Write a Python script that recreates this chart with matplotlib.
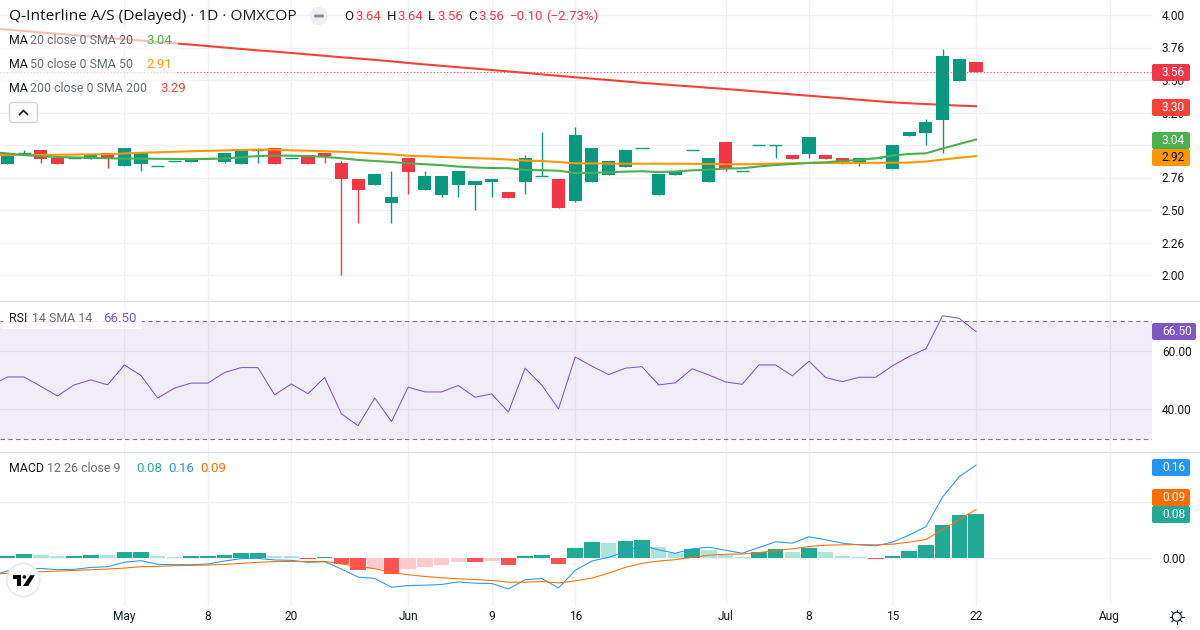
import numpy as np
import matplotlib
matplotlib.use('Agg')
import matplotlib.pyplot as plt
from matplotlib.patches import Circle, FancyBboxPatch, Polygon, Rectangle

plt.rcParams['font.family'] = ['Roboto', 'DejaVu Sans']

opens = [2.855, 2.94, 2.96, 2.90, 2.90, 2.89, 2.94, 2.835, 2.855, 2.84,
         2.875, 2.87, 2.90, 2.87, 2.855, 2.96, 2.977, 2.90, 2.92, 2.94,
         2.86, 2.74, 2.695, 2.555, 2.90, 2.655, 2.615, 2.69, 2.69, 2.715,
         2.64, 2.715, 2.76, 2.74, 2.57, 2.715, 2.77, 2.83, 2.975, 2.615,
         2.77, 2.96, 2.715, 3.02, 2.80, 3.00, 3.00, 2.92, 2.93, 2.92,
         2.90, 2.855, 2.90, 2.815, 3.07, 3.09, 3.19, 3.49, 3.64]
highs = [2.94, 2.96, 2.96, 2.90, 2.90, 2.92, 2.94, 2.977, 2.94, 2.84,
         2.875, 2.90, 2.90, 2.94, 2.96, 2.98, 2.977, 2.90, 2.92, 2.94,
         2.875, 2.74, 2.777, 2.80, 2.90, 2.80, 2.76, 2.80, 2.72, 2.74,
         2.64, 2.92, 3.10, 2.74, 3.14, 2.977, 2.877, 2.96, 2.975, 2.777,
         2.80, 2.96, 2.90, 3.02, 2.80, 3.00, 3.00, 2.92, 3.06, 2.92,
         2.90, 2.90, 2.90, 3.00, 3.10, 3.20, 3.74, 3.66, 3.64]
lows = [2.855, 2.94, 2.865, 2.855, 2.90, 2.89, 2.825, 2.835, 2.80, 2.84,
        2.875, 2.87, 2.90, 2.86, 2.855, 2.86, 2.855, 2.90, 2.855, 2.865,
        2.00, 2.40, 2.695, 2.40, 2.625, 2.655, 2.60, 2.60, 2.50, 2.60,
        2.59, 2.62, 2.76, 2.515, 2.56, 2.715, 2.77, 2.83, 2.975, 2.615,
        2.77, 2.96, 2.715, 2.80, 2.80, 3.00, 2.90, 2.89, 2.90, 2.89,
        2.855, 2.84, 2.90, 2.815, 3.07, 3.00, 2.94, 3.49, 3.56]
closes = [2.94, 2.94, 2.895, 2.855, 2.90, 2.92, 2.89, 2.977, 2.94, 2.84,
          2.875, 2.90, 2.90, 2.94, 2.96, 2.96, 2.855, 2.90, 2.855, 2.915,
          2.735, 2.655, 2.777, 2.60, 2.795, 2.76, 2.76, 2.80, 2.72, 2.74,
          2.59, 2.90, 2.76, 2.515, 3.077, 2.977, 2.877, 2.96, 2.975, 2.777,
          2.80, 2.96, 2.90, 2.815, 2.80, 3.00, 3.00, 2.89, 3.06, 2.89,
          2.855, 2.90, 2.90, 3.00, 3.10, 3.177, 3.685, 3.66, 3.56]

# indicator series carry one extra leading session that starts left of the view
ma20 = [2.946, 2.935, 2.923, 2.914, 2.908, 2.904, 2.902, 2.898, 2.896, 2.895,
        2.894, 2.893, 2.892, 2.892, 2.897, 2.906, 2.915, 2.918, 2.918, 2.914,
        2.909, 2.898, 2.885, 2.877, 2.869, 2.859, 2.852, 2.845, 2.834, 2.827,
        2.823, 2.822, 2.808, 2.806, 2.802, 2.785, 2.786, 2.790, 2.795, 2.798,
        2.792, 2.796, 2.805, 2.810, 2.819, 2.821, 2.835, 2.846, 2.854, 2.862,
        2.867, 2.878, 2.885, 2.898, 2.919, 2.931, 2.936, 2.973, 3.008, 3.042]
ma50 = [2.922, 2.923, 2.923, 2.923, 2.925, 2.926, 2.928, 2.929, 2.935, 2.940,
        2.944, 2.948, 2.952, 2.955, 2.958, 2.962, 2.964, 2.964, 2.959, 2.956,
        2.952, 2.948, 2.942, 2.935, 2.928, 2.917, 2.913, 2.908, 2.903, 2.898,
        2.895, 2.888, 2.880, 2.877, 2.869, 2.859, 2.858, 2.857, 2.856, 2.856,
        2.856, 2.856, 2.855, 2.854, 2.852, 2.852, 2.854, 2.857, 2.859, 2.862,
        2.862, 2.862, 2.862, 2.863, 2.864, 2.865, 2.873, 2.888, 2.902, 2.915]
ma200 = [3.898, 3.888, 3.877, 3.866, 3.856, 3.845, 3.835, 3.824, 3.814, 3.803,
         3.792, 3.782, 3.772, 3.761, 3.750, 3.739, 3.728, 3.718, 3.708, 3.697,
         3.686, 3.675, 3.665, 3.655, 3.643, 3.631, 3.620, 3.609, 3.598, 3.588,
         3.577, 3.566, 3.555, 3.543, 3.532, 3.521, 3.510, 3.500, 3.489, 3.478,
         3.469, 3.459, 3.450, 3.440, 3.431, 3.421, 3.410, 3.400, 3.389, 3.379,
         3.369, 3.359, 3.348, 3.338, 3.328, 3.321, 3.315, 3.309, 3.303, 3.298]
rsi = [48.0, 51.0, 51.0, 47.8, 44.5, 48.3, 50.0, 48.3, 55.1, 51.5,
       43.8, 47.2, 48.9, 48.9, 52.5, 54.2, 54.2, 44.9, 48.6, 45.3,
       50.8, 38.4, 34.4, 43.8, 35.8, 47.5, 45.9, 45.9, 48.1, 44.1,
       45.2, 39.0, 54.0, 48.2, 40.1, 57.8, 54.7, 51.8, 54.0, 54.5,
       48.3, 49.0, 53.8, 51.7, 49.3, 48.5, 55.1, 55.1, 51.4, 56.4,
       50.8, 49.4, 50.9, 50.9, 54.8, 58.0, 60.6, 71.9, 71.0, 66.5]
macd = [-0.031, -0.0226, -0.019, -0.0179, -0.0202, -0.0196, -0.0161, -0.0149, -0.0071, -0.0042,
        -0.0107, -0.0113, -0.0113, -0.0101, -0.0048, -0.0006, 0.0, -0.003, -0.0036, -0.0071,
        -0.006, -0.019, -0.0333, -0.0357, -0.0512, -0.0482, -0.0476, -0.0464, -0.0417, -0.044,
        -0.0446, -0.0542, -0.0381, -0.0357, -0.0524, -0.0214, -0.0048, 0.0018, 0.0119, 0.0226,
        0.0149, 0.0089, 0.0167, 0.0196, 0.0143, 0.0089, 0.019, 0.0292, 0.0268, 0.0381,
        0.0327, 0.0268, 0.0238, 0.022, 0.0286, 0.0411, 0.056, 0.1083, 0.1446, 0.1649]
signal = [-0.028, -0.0268, -0.025, -0.0238, -0.0226, -0.0214, -0.0202, -0.019, -0.0173, -0.0149,
          -0.0143, -0.0131, -0.0125, -0.0119, -0.0107, -0.0089, -0.0071, -0.006, -0.0054, -0.006,
          -0.0054, -0.0101, -0.0143, -0.0185, -0.025, -0.0292, -0.0321, -0.0345, -0.0363, -0.0375,
          -0.0393, -0.0423, -0.0423, -0.0411, -0.0435, -0.0399, -0.0351, -0.0262, -0.0161, -0.0089,
          -0.0048, -0.0024, 0.0018, 0.0054, 0.0071, 0.0077, 0.0101, 0.0137, 0.0167, 0.0208,
          0.0232, 0.0238, 0.0244, 0.0238, 0.025, 0.0286, 0.0333, 0.0506, 0.0685, 0.0863]
hist = [0.0042, 0.0077, 0.0060, 0.0042, 0.0044, 0.0060, 0.0058, 0.0113, 0.0115, 0.0042,
        0.0024, 0.0040, 0.0042, 0.0060, 0.0095, 0.0097, 0.0044, 0.0042, -0.0015, 0.0024,
        -0.0101, -0.0208, -0.0190, -0.0280, -0.0190, -0.0155, -0.0119, -0.0065, -0.0067, -0.0048,
        -0.0119, 0.0042, 0.0060, -0.0101, 0.0185, 0.0292, 0.0274, 0.0310, 0.0327, 0.0202,
        0.0095, 0.0167, 0.0149, 0.0060, 0.0024, 0.0113, 0.0167, 0.0113, 0.0185, 0.0113,
        0.0042, 0.0024, -0.0012, 0.0042, 0.0131, 0.0238, 0.0595, 0.0774, 0.0792]

date_ticks = [7, 12, 17, 24, 29, 34, 43, 48, 53, 58, 66]
date_labels = ['May', '8', '20', 'Jun', '9', '16', 'Jul', '8', '15', '22', 'Aug']
price_ticks = [4.0, 3.75, 3.5, 3.25, 3.0, 2.75, 2.5, 2.25, 2.0]
# 3.00 sits right behind the MA20 tag, so it keeps its grid line but no label
price_labels = ['4.00', '3.76', '3.50', '3.26', '', '2.76', '2.50', '2.26', '2.00']

UP = '#089981'
DOWN = '#F23645'
GRID = '#F0F1F4'
INK = '#131722'
MUTED = '#6A6D78'
GREEN = '#4CAF50'
ORANGE = '#FF9800'
RED = '#F44336'
PURPLE = '#7E57C2'
BLUE = '#2196F3'
SIGNAL = '#FF6D00'
TEAL = '#22AB94'

W, H = 1200, 630
PANE_W = 1152
BAR0 = 7.4
PITCH = 16.7
FS = 8.6
LEGEND_FS = 8.9
VALUE_FS = 9.5

fig = plt.figure(figsize=(W / 100, H / 100), dpi=100, facecolor='white')


def pane(top, bottom, ylim, ticks, labels):
    ax = fig.add_axes([0, 1 - bottom / H, PANE_W / W, (bottom - top) / H])
    ax.set_xlim(-BAR0 / PITCH, (PANE_W - BAR0) / PITCH)
    ax.set_ylim(*ylim)
    ax.set_xticks(date_ticks)
    ax.set_yticks(ticks)
    ax.set_yticklabels(labels, va='center_baseline')
    ax.yaxis.tick_right()
    ax.tick_params(axis='y', length=0, pad=7.2, labelsize=FS, labelcolor=INK)
    ax.tick_params(axis='x', length=0, labelbottom=False)
    ax.grid(True, color=GRID, lw=1)
    ax.set_axisbelow(True)
    for s in ax.spines.values():
        s.set_visible(False)
    return ax


# price pane
ax1 = pane(0, 300, (4 - 285 / 130, 4 + 15 / 130), price_ticks, price_labels)
bars = np.arange(len(closes))
line_x = np.arange(-1, len(closes))
ax1.plot(line_x, ma200, color=RED, lw=1.5, zorder=2)
for i in bars:
    color = UP if closes[i] >= opens[i] else DOWN
    ax1.vlines(i, lows[i], highs[i], color=color, lw=1, zorder=3)
    if opens[i] == closes[i]:
        ax1.hlines(opens[i], i - 0.39, i + 0.39, color=color, lw=1, zorder=3)
    else:
        ax1.bar(i, abs(closes[i] - opens[i]), width=0.78, bottom=min(opens[i], closes[i]),
                color=color, lw=0, zorder=3)
ax1.plot(line_x, ma50, color=ORANGE, lw=1.5, zorder=4)
ax1.plot(line_x, ma20, color=GREEN, lw=1.5, zorder=5)
ax1.axhline(closes[-1], color=DOWN, lw=0.8, ls=(0, (1, 2)), zorder=6)

# RSI pane
ax2 = pane(301, 451, (40 - 41.8 / 2.93, 70 + 20.3 / 2.93), [60, 40], ['60.00', '40.00'])
ax2.axhspan(30, 70, color=PURPLE, alpha=0.1, lw=0)
ax2.axhline(70, color='#787B86', lw=0.8, ls=(0, (4, 3)))
ax2.axhline(30, color='#787B86', lw=0.8, ls=(0, (4, 3)))
ax2.plot(line_x, rsi, color=PURPLE, lw=0.75)

# MACD pane, histogram shade follows the change from the previous bar
ax3 = pane(452, 606, (-47.7 / 565, 106.3 / 565), [0.1, 0.0], ['', '0.00'])
hist_colors = []
for i, v in enumerate(hist):
    prev = hist[i - 1] if i else v
    if v >= 0:
        hist_colors.append('#22AB94' if v >= prev else '#ACE5DC')
    else:
        hist_colors.append('#FF5252' if v < prev else '#FCCBCD')
ax3.bar(bars, hist, width=0.93, color=hist_colors, lw=0, zorder=2)
ax3.plot(line_x, macd, color=BLUE, lw=0.75, zorder=3)
ax3.plot(line_x, signal, color=SIGNAL, lw=0.75, zorder=3)
ax3.set_xticklabels(date_labels)
ax3.tick_params(axis='x', labelbottom=True, labelsize=FS, labelcolor=INK, pad=2.8)

# pixel-based layer for header, legends and price tags
top = fig.add_axes([0, 0, 1, 1], facecolor='none')
top.set_xlim(0, W)
top.set_ylim(H, 0)
top.axis('off')

for y in (300.5, 451.5):
    top.plot([0, W], [y, y], color='#E0E3EB', lw=1)


def put(x, y, s, color=INK, size=LEGEND_FS, **kw):
    top.text(x, y, s, color=color, fontsize=size, va='center', ha=kw.pop('ha', 'left'), **kw)


def veil(x0, y0, x1, y1, alpha=0.65):
    top.add_patch(Rectangle((x0, y0), x1 - x0, y1 - y0, color='white', alpha=alpha, lw=0))


def tag(y, value, bg, fg='white', width=38):
    top.add_patch(FancyBboxPatch((1152, y - 8.5), width, 17, boxstyle='round,pad=0,rounding_size=2',
                                 color=bg, lw=0))
    put(1162, y, f'{value:.2f}', fg, size=FS)


# header
veil(0, 26, 178, 49)
veil(0, 56, 176, 73)
veil(0, 80, 190, 97)
put(9, 16, 'Q-Interline A/S (Delayed) · 1D · OMXCOP', size=11.15, family=['Open Sans', 'DejaVu Sans'])
top.add_patch(Circle((319, 16), 9, color='#EDEEF1', lw=0))
top.add_patch(FancyBboxPatch((314, 14.5), 10, 3, boxstyle='round,pad=0,rounding_size=1.5',
                             color='#8A8E99', lw=0))
for x, s, c in [(344, 'O', INK), (355, f'{opens[-1]:.2f}', DOWN), (387, 'H', INK),
                (397, f'{highs[-1]:.2f}', DOWN), (428, 'L', INK), (437, f'{lows[-1]:.2f}', DOWN),
                (468, 'C', INK), (478, f'{closes[-1]:.2f}', DOWN), (510, '−0.10', DOWN),
                (546, '(−2.73%)', DOWN)]:
    put(x, 16, s, c, size=VALUE_FS)

# indicator legends
put(9, 40.5, 'MA', INK)
put(30, 40.5, '20 close 0 SMA 20', MUTED)
put(146, 40.5, '3.04', GREEN, size=VALUE_FS)
put(9, 64, 'MA', INK)
put(30, 64, '50 close 0 SMA 50', MUTED)
put(146, 64, '2.91', ORANGE, size=VALUE_FS)
put(9, 88, 'MA', INK)
put(30, 88, '200 close 0 SMA 200', MUTED)
put(160, 88, '3.29', RED, size=VALUE_FS)
top.add_patch(FancyBboxPatch((9.5, 102.5), 28, 20, boxstyle='round,pad=0,rounding_size=3',
                             fc='white', ec='#D1D4DC', lw=1))
top.plot([19.5, 23.5, 27.5], [114.5, 110.5, 114.5], color=INK, lw=1.2)

veil(3, 309, 142, 329, alpha=0.8)
put(9, 318, 'RSI', INK)
put(32, 318, '14 SMA 14', MUTED)
put(103, 318, '66.50', PURPLE, size=VALUE_FS)

put(9, 468, 'MACD', INK)
put(47, 468, '12 26 close 9', MUTED)
put(136, 468, '0.08', TEAL, size=VALUE_FS)
put(168, 468, '0.16', BLUE, size=VALUE_FS)
put(200, 468, '0.09', SIGNAL, size=VALUE_FS)

# last value tags on the price scales
tag(72.5, closes[-1], DOWN)
tag(107.5, ma200[-1], RED)
tag(140.5, ma20[-1], GREEN)
tag(157.5, ma50[-1], ORANGE, 'black')
tag(331.5, rsi[-1], PURPLE, width=44)
tag(467.5, macd[-1], BLUE)
tag(497.5, signal[-1], SIGNAL)
tag(514.5, hist[-1], TEAL)

# logo badge
top.add_patch(Circle((23.3, 580), 16.5, fc='white', ec='#E8E9ED', lw=1.2))
top.add_patch(Polygon([(12.7, 575.2), (21.3, 575.2), (21.3, 586), (16.8, 586), (16.8, 578.6), (12.7, 578.6)],
                      color='black', lw=0))
top.add_patch(Circle((24.4, 577), 1.8, color='black', lw=0))
top.add_patch(Polygon([(30.2, 575.2), (34.8, 575.2), (28.2, 586), (23.0, 586)], color='black', lw=0))

# settings icon
top.add_patch(Circle((1176.8, 616.7), 4.5, fc='white', ec=INK, lw=0.8))
for a in np.arange(0, 360, 45):
    dx, dy = np.cos(np.radians(a)), np.sin(np.radians(a))
    top.plot([1176.8 + 4.8 * dx, 1176.8 + 7 * dx], [616.7 + 4.8 * dy, 616.7 + 7 * dy], color=INK, lw=0.8)

fig.savefig('out.png', dpi=100)
